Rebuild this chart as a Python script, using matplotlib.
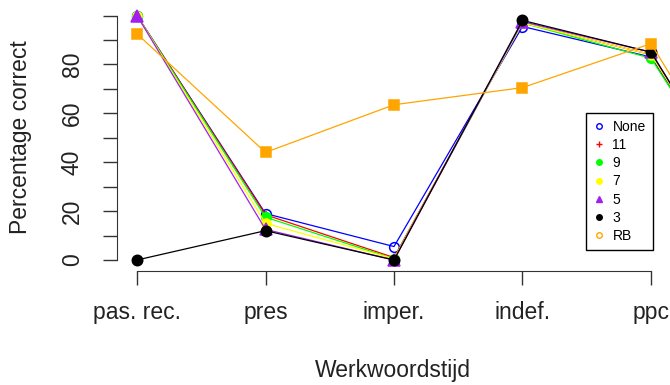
import numpy as np
import matplotlib.pyplot as plt
from matplotlib.lines import Line2D

plt.rcParams['font.family'] = ['Liberation Sans', 'DejaVu Sans']

# Tense categories on the x axis (the series run on past the last shown one)
categories = ['pas. rec.', 'pres', 'imper.', 'indef.', 'ppc']

pct_none = [100, 19, 5.5, 95.5, 83, 1]
pct_11 = [100, 18.5, 1, 97, 84, 1]
pct_9 = [100, 17.5, 0.5, 97, 82.5, 1]
pct_7 = [100, 15, 0.5, 97, 84, 1]
pct_5 = [100, 12.5, 0, 97.5, 85, 0]
pct_3 = [0, 12, 0, 98, 85, 0]
pct_rb = [92.5, 44, 63.5, 70.5, 88.5, 3]

series = [
    ('None', pct_none, 'blue', 'o', 'none', 7),
    ('11', pct_11, 'red', '+', 'red', 6),
    ('9', pct_9, 'lime', 'o', 'lime', 7),
    ('7', pct_7, 'yellow', 'o', 'yellow', 6.5),
    ('5', pct_5, '#a020f0', '^', '#a020f0', 8.5),
    ('3', pct_3, 'black', 'o', 'black', 7.5),
    ('RB', pct_rb, 'orange', 's', 'orange', 7.5),
]

fig = plt.figure(figsize=(6.7, 3.85), dpi=100)
ax = fig.add_axes([117 / 670, 1 - 271 / 385, 553 / 670, 271 / 385])

for name, vals, col, mk, fc, ms in series:
    x = np.arange(len(vals))
    ax.plot(x, vals, color=col, lw=0.9, marker=mk, markerfacecolor=fc,
            markeredgecolor=col, markersize=ms, markeredgewidth=1.1)

ax.set_xlim(-20 / 128.5, 533 / 128.5)
ax.set_ylim(-11 / 2.445, 260 / 2.445)

for side in ['top', 'right']:
    ax.spines[side].set_visible(False)
ax.spines['left'].set_bounds(0, 100)
ax.spines['bottom'].set_bounds(0, len(categories) - 1)
ax.spines['left'].set_color('#333333')
ax.spines['bottom'].set_color('#333333')

ax.set_xticks(range(len(categories)))
ax.set_xticklabels(categories)
ax.set_yticks(np.arange(0, 101, 10))
ax.set_yticklabels([str(v) if v % 20 == 0 and v < 100 else '' for v in range(0, 101, 10)],
                   rotation=90, va='center')
ax.tick_params(axis='both', length=10, width=1, color='#333333', labelsize=16.5,
               labelcolor='#222222')
ax.tick_params(axis='x', pad=11.5)
ax.tick_params(axis='y', pad=14)

fig.text(21 / 670, 1 - 137 / 385, 'Percentage correct', rotation=90, ha='center',
         va='center', fontsize=16.5, color='#222222')
fig.text(393 / 670, 1 - 370 / 385, 'Werkwoordstijd', ha='center', va='center',
         fontsize=16.5, color='#222222')

handles = [
    Line2D([], [], ls='none', marker='o', markersize=4, markerfacecolor='none',
           markeredgecolor='blue'),
    Line2D([], [], ls='none', marker='+', markersize=4, color='red'),
    Line2D([], [], ls='none', marker='o', markersize=4, color='lime'),
    Line2D([], [], ls='none', marker='o', markersize=4, color='yellow'),
    Line2D([], [], ls='none', marker='^', markersize=4, color='#a020f0'),
    Line2D([], [], ls='none', marker='o', markersize=4, color='black'),
    Line2D([], [], ls='none', marker='o', markersize=4, markerfacecolor='none',
           markeredgecolor='orange'),
]
leg = fig.legend(handles, [s[0] for s in series], loc='upper left',
                 bbox_to_anchor=(586 / 670, 1 - 113 / 385), fontsize=10,
                 fancybox=False, framealpha=1, edgecolor='black',
                 handlelength=0.8, handletextpad=0.6, labelspacing=0.3,
                 borderpad=0.5, borderaxespad=0)
leg.get_frame().set_linewidth(1)

fig.savefig('out.png', dpi=100)
